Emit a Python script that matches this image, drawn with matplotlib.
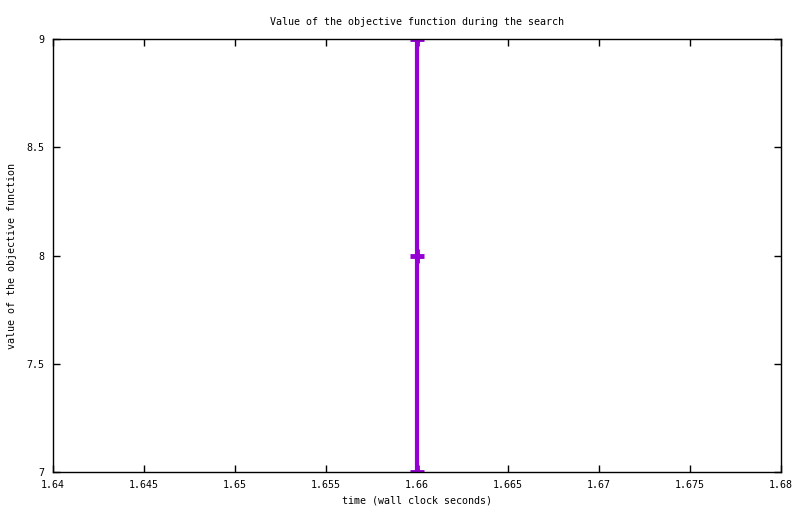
import matplotlib
matplotlib.use("Agg")
import matplotlib.pyplot as plt

# objective value found at each time (wall clock seconds)
times = [1.66, 1.66, 1.66]
values = [9, 8, 7]

xticks = [1.64, 1.645, 1.65, 1.655, 1.66, 1.665, 1.67, 1.675, 1.68]
yticks = [7, 7.5, 8, 8.5, 9]

plt.rcParams['font.family'] = ['DejaVu Sans Mono']
plt.rcParams['font.size'] = 7.2

fig = plt.figure(figsize=(8, 5.14), dpi=100)
ax = fig.add_axes([0.06625, 0.0817, 0.91, 0.8424])

ax.plot(times, values, color='#9400d3', lw=3, marker='+', ms=10, mew=3.5)

ax.set_xlim(1.64, 1.68)
ax.set_ylim(7, 9)
ax.set_xticks(xticks)
ax.set_xticklabels(['%g' % t for t in xticks])
ax.set_yticks(yticks)
ax.set_yticklabels(['%g' % t for t in yticks])
ax.tick_params(direction='in', top=True, right=True, length=5, width=1, pad=6)
for s in ax.spines.values():
    s.set_linewidth(1)

ax.set_title('Value of the objective function during the search', fontsize=7.2, pad=10)
ax.set_xlabel('time (wall clock seconds)', labelpad=4)
ax.set_ylabel('value of the objective function', labelpad=7)

fig.savefig('out.png', dpi=100)
